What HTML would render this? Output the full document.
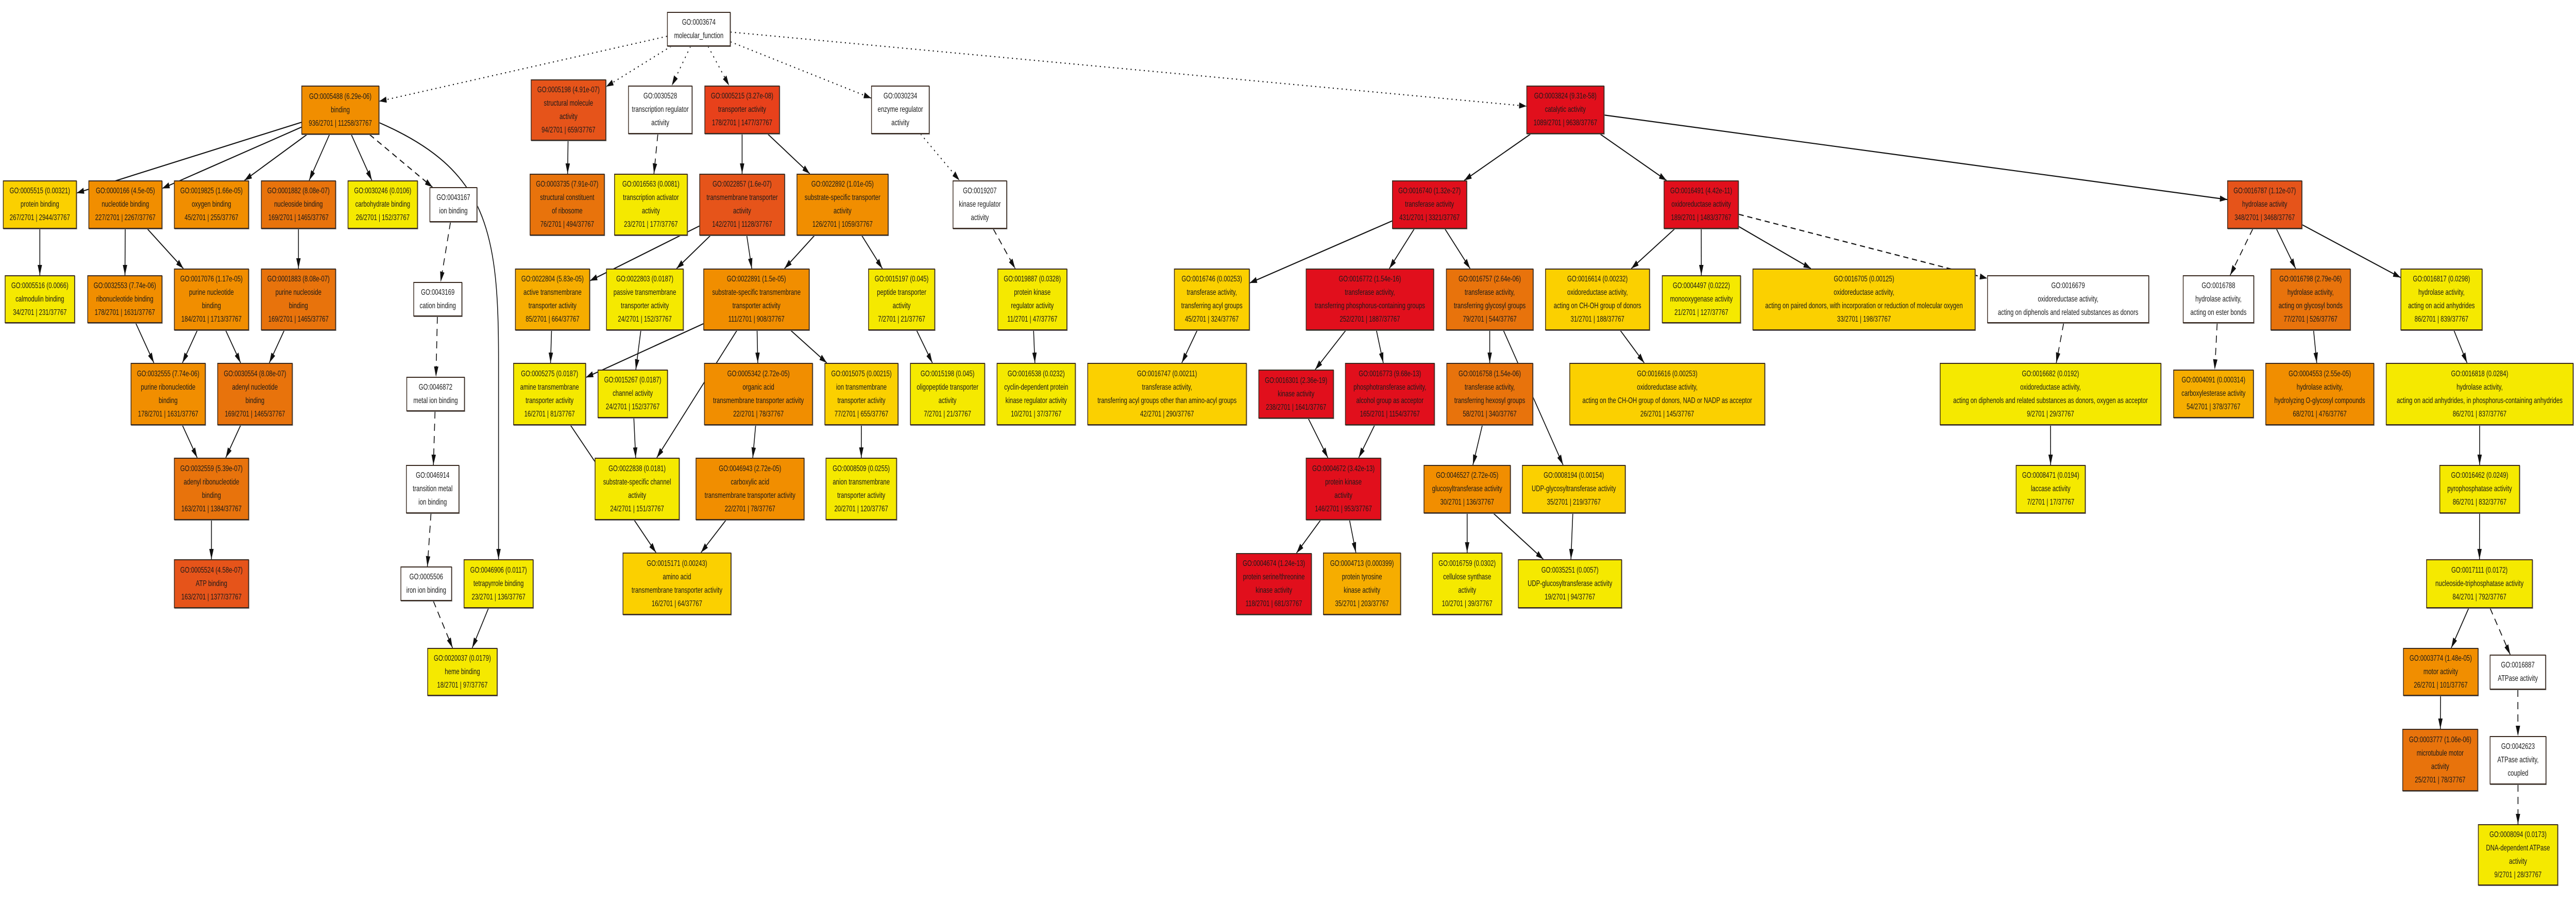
<!DOCTYPE html>
<html><head><meta charset="utf-8">
<style>
html,body{margin:0;padding:0;background:#fff;overflow:hidden}
#c{position:absolute;left:0;top:0;width:7017px;height:1750px;overflow:hidden;background:#fff;transform-origin:0 0}
svg{position:absolute;left:0;top:0}
.n{position:absolute;box-sizing:border-box;border:2px solid #3a2a20;display:flex;align-items:center;justify-content:center;font:16px/26px "Liberation Sans",sans-serif;color:#1a1a1a;white-space:nowrap;text-align:center;box-shadow:1px 1px 0 #777;overflow:hidden}
.n>div{max-width:100%}
.R{background:#e10f1c}.T{background:#e8411b}.S{background:#e6541a}.D{background:#e8730c}.O{background:#f18e00}.G{background:#f6ad00}.Y{background:#fbd000}.L{background:#f5e900}.W{background:#fff}
</style></head><body><div id="c">
<svg id="s" width="7017" height="1750" viewBox="0 0 7017 1750" xmlns="http://www.w3.org/2000/svg">
<defs><marker id="m" markerWidth="20" markerHeight="12" refX="20" refY="6" orient="auto" markerUnits="userSpaceOnUse"><path d="M0,0 L20,6 L0,12 z" fill="#111"/></marker></defs>
<g id="g" fill="none" stroke="#111" stroke-width="2.2"></g>
</svg>
<div class="n W" id="r" style="left:1817px;top:23px;width:173px;height:67px"><div>GO:0003674<br>molecular_function</div></div>
<div class="n O" id="n0005488" style="left:821px;top:166px;width:212px;height:95px"><div>GO:0005488 (6.29e-06)<br>binding<br>936/2701 | 11258/37767</div></div>
<div class="n S" id="n0005198" style="left:1446px;top:154px;width:205px;height:119px"><div>GO:0005198 (4.91e-07)<br>structural molecule<br>activity<br>94/2701 | 659/37767</div></div>
<div class="n W" id="n0030528" style="left:1711px;top:166px;width:175px;height:94px"><div>GO:0030528<br>transcription regulator<br>activity</div></div>
<div class="n T" id="n0005215" style="left:1919px;top:166px;width:205px;height:94px"><div>GO:0005215 (3.27e-08)<br>transporter activity<br>178/2701 | 1477/37767</div></div>
<div class="n W" id="n0030234" style="left:2373px;top:166px;width:159px;height:94px"><div>GO:0030234<br>enzyme regulator<br>activity</div></div>
<div class="n R" id="n0003824" style="left:4158px;top:166px;width:212px;height:94px"><div>GO:0003824 (9.31e-58)<br>catalytic activity<br>1089/2701 | 9638/37767</div></div>

<div class="n Y" id="n0005515" style="left:8px;top:350px;width:201px;height:94px"><div>GO:0005515 (0.00321)<br>protein binding<br>267/2701 | 2944/37767</div></div>
<div class="n O" id="n0000166" style="left:241px;top:350px;width:201px;height:94px"><div>GO:0000166 (4.5e-05)<br>nucleotide binding<br>227/2701 | 2267/37767</div></div>
<div class="n O" id="n0019825" style="left:474px;top:350px;width:204px;height:94px"><div>GO:0019825 (1.66e-05)<br>oxygen binding<br>45/2701 | 255/37767</div></div>
<div class="n D" id="n0001882" style="left:711px;top:350px;width:204px;height:94px"><div>GO:0001882 (8.08e-07)<br>nucleoside binding<br>169/2701 | 1465/37767</div></div>
<div class="n L" id="n0030246" style="left:947px;top:350px;width:191px;height:94px"><div>GO:0030246 (0.0106)<br>carbohydrate binding<br>26/2701 | 152/37767</div></div>
<div class="n W" id="n0043167" style="left:1170px;top:363px;width:130px;height:68px"><div>GO:0043167<br>ion binding</div></div>
<div class="n D" id="n0003735" style="left:1443px;top:337px;width:204px;height:120px"><div>GO:0003735 (7.91e-07)<br>structural constituent<br>of ribosome<br>76/2701 | 494/37767</div></div>
<div class="n L" id="n0016563" style="left:1673px;top:337px;width:200px;height:120px"><div>GO:0016563 (0.0081)<br>transcription activator<br>activity<br>23/2701 | 177/37767</div></div>
<div class="n S" id="n0022857" style="left:1905px;top:337px;width:233px;height:120px"><div>GO:0022857 (1.6e-07)<br>transmembrane transporter<br>activity<br>142/2701 | 1128/37767</div></div>
<div class="n O" id="n0022892" style="left:2170px;top:337px;width:250px;height:120px"><div>GO:0022892 (1.01e-05)<br>substrate-specific transporter<br>activity<br>126/2701 | 1059/37767</div></div>
<div class="n W" id="n0019207" style="left:2595px;top:350px;width:148px;height:94px"><div>GO:0019207<br>kinase regulator<br>activity</div></div>
<div class="n R" id="n0016740" style="left:3792px;top:350px;width:204px;height:94px"><div>GO:0016740 (1.32e-27)<br>transferase activity<br>431/2701 | 3321/37767</div></div>
<div class="n R" id="n0016491" style="left:4532px;top:350px;width:204px;height:94px"><div>GO:0016491 (4.42e-11)<br>oxidoreductase activity<br>189/2701 | 1483/37767</div></div>
<div class="n S" id="n0016787" style="left:6067px;top:350px;width:204px;height:94px"><div>GO:0016787 (1.12e-07)<br>hydrolase activity<br>348/2701 | 3468/37767</div></div>

<div class="n L" id="n0005516" style="left:13px;top:534px;width:191px;height:93px"><div>GO:0005516 (0.0066)<br>calmodulin binding<br>34/2701 | 231/37767</div></div>
<div class="n O" id="n0032553" style="left:238px;top:534px;width:204px;height:93px"><div>GO:0032553 (7.74e-06)<br>ribonucleotide binding<br>178/2701 | 1631/37767</div></div>
<div class="n O" id="n0017076" style="left:474px;top:521px;width:204px;height:120px"><div>GO:0017076 (1.17e-05)<br>purine nucleotide<br>binding<br>184/2701 | 1713/37767</div></div>
<div class="n D" id="n0001883" style="left:711px;top:521px;width:204px;height:120px"><div>GO:0001883 (8.08e-07)<br>purine nucleoside<br>binding<br>169/2701 | 1465/37767</div></div>
<div class="n W" id="n0043169" style="left:1126px;top:547px;width:133px;height:67px"><div>GO:0043169<br>cation binding</div></div>
<div class="n G" id="n0022804" style="left:1403px;top:521px;width:204px;height:120px"><div>GO:0022804 (5.83e-05)<br>active transmembrane<br>transporter activity<br>85/2701 | 664/37767</div></div>
<div class="n L" id="n0022803" style="left:1651px;top:521px;width:211px;height:120px"><div>GO:0022803 (0.0187)<br>passive transmembrane<br>transporter activity<br>24/2701 | 152/37767</div></div>
<div class="n O" id="n0022891" style="left:1916px;top:521px;width:289px;height:120px"><div>GO:0022891 (1.5e-05)<br>substrate-specific transmembrane<br>transporter activity<br>111/2701 | 908/37767</div></div>
<div class="n L" id="n0015197" style="left:2365px;top:521px;width:182px;height:120px"><div>GO:0015197 (0.045)<br>peptide transporter<br>activity<br>7/2701 | 21/37767</div></div>
<div class="n L" id="n0019887" style="left:2717px;top:521px;width:190px;height:120px"><div>GO:0019887 (0.0328)<br>protein kinase<br>regulator activity<br>11/2701 | 47/37767</div></div>
<div class="n Y" id="n0016746" style="left:3198px;top:521px;width:206px;height:120px"><div>GO:0016746 (0.00253)<br>transferase activity,<br>transferring acyl groups<br>45/2701 | 324/37767</div></div>
<div class="n R" id="n0016772" style="left:3557px;top:521px;width:349px;height:120px"><div>GO:0016772 (1.54e-16)<br>transferase activity,<br>transferring phosphorus-containing groups<br>252/2701 | 1887/37767</div></div>
<div class="n D" id="n0016757" style="left:3939px;top:521px;width:238px;height:120px"><div>GO:0016757 (2.64e-06)<br>transferase activity,<br>transferring glycosyl groups<br>79/2701 | 544/37767</div></div>
<div class="n Y" id="n0016614" style="left:4209px;top:521px;width:285px;height:120px"><div>GO:0016614 (0.00232)<br>oxidoreductase activity,<br>acting on CH-OH group of donors<br>31/2701 | 188/37767</div></div>
<div class="n L" id="n0004497" style="left:4527px;top:534px;width:215px;height:93px"><div>GO:0004497 (0.0222)<br>monooxygenase activity<br>21/2701 | 127/37767</div></div>
<div class="n Y" id="n0016705" style="left:4774px;top:521px;width:607px;height:120px"><div>GO:0016705 (0.00125)<br>oxidoreductase activity,<br>acting on paired donors, with incorporation or reduction of molecular oxygen<br>33/2701 | 198/37767</div></div>
<div class="n W" id="n0016679" style="left:5413px;top:534px;width:441px;height:93px"><div>GO:0016679<br>oxidoreductase activity,<br>acting on diphenols and related substances as donors</div></div>
<div class="n W" id="n0016788" style="left:5946px;top:534px;width:194px;height:93px"><div>GO:0016788<br>hydrolase activity,<br>acting on ester bonds</div></div>
<div class="n D" id="n0016798" style="left:6185px;top:521px;width:218px;height:120px"><div>GO:0016798 (2.79e-06)<br>hydrolase activity,<br>acting on glycosyl bonds<br>77/2701 | 526/37767</div></div>
<div class="n L" id="n0016817" style="left:6539px;top:521px;width:223px;height:120px"><div>GO:0016817 (0.0298)<br>hydrolase activity,<br>acting on acid anhydrides<br>86/2701 | 839/37767</div></div>

<div class="n O" id="n0032555" style="left:356px;top:704px;width:204px;height:121px"><div>GO:0032555 (7.74e-06)<br>purine ribonucleotide<br>binding<br>178/2701 | 1631/37767</div></div>
<div class="n D" id="n0030554" style="left:592px;top:704px;width:205px;height:121px"><div>GO:0030554 (8.08e-07)<br>adenyl nucleotide<br>binding<br>169/2701 | 1465/37767</div></div>
<div class="n W" id="n0046872" style="left:1107px;top:731px;width:159px;height:67px"><div>GO:0046872<br>metal ion binding</div></div>
<div class="n L" id="n0005275" style="left:1398px;top:704px;width:198px;height:121px"><div>GO:0005275 (0.0187)<br>amine transmembrane<br>transporter activity<br>16/2701 | 81/37767</div></div>
<div class="n L" id="n0015267" style="left:1628px;top:717px;width:191px;height:94px"><div>GO:0015267 (0.0187)<br>channel activity<br>24/2701 | 152/37767</div></div>
<div class="n O" id="n0005342" style="left:1918px;top:704px;width:296px;height:121px"><div>GO:0005342 (2.72e-05)<br>organic acid<br>transmembrane transporter activity<br>22/2701 | 78/37767</div></div>
<div class="n Y" id="n0015075" style="left:2246px;top:704px;width:201px;height:121px"><div>GO:0015075 (0.00215)<br>ion transmembrane<br>transporter activity<br>77/2701 | 655/37767</div></div>
<div class="n L" id="n0015198" style="left:2479px;top:704px;width:204px;height:121px"><div>GO:0015198 (0.045)<br>oligopeptide transporter<br>activity<br>7/2701 | 21/37767</div></div>
<div class="n L" id="n0016538" style="left:2715px;top:704px;width:215px;height:121px"><div>GO:0016538 (0.0232)<br>cyclin-dependent protein<br>kinase regulator activity<br>10/2701 | 37/37767</div></div>
<div class="n Y" id="n0016747" style="left:2962px;top:704px;width:434px;height:121px"><div>GO:0016747 (0.00211)<br>transferase activity,<br>transferring acyl groups other than amino-acyl groups<br>42/2701 | 290/37767</div></div>
<div class="n R" id="n0016301" style="left:3428px;top:717px;width:205px;height:95px"><div>GO:0016301 (2.36e-19)<br>kinase activity<br>238/2701 | 1641/37767</div></div>
<div class="n R" id="n0016773" style="left:3664px;top:704px;width:244px;height:121px"><div>GO:0016773 (9.68e-13)<br>phosphotransferase activity,<br>alcohol group as acceptor<br>165/2701 | 1154/37767</div></div>
<div class="n D" id="n0016758" style="left:3940px;top:704px;width:236px;height:121px"><div>GO:0016758 (1.54e-06)<br>transferase activity,<br>transferring hexosyl groups<br>58/2701 | 340/37767</div></div>
<div class="n Y" id="n0016616" style="left:4275px;top:704px;width:533px;height:121px"><div>GO:0016616 (0.00253)<br>oxidoreductase activity,<br>acting on the CH-OH group of donors, NAD or NADP as acceptor<br>26/2701 | 145/37767</div></div>
<div class="n L" id="n0016682" style="left:5284px;top:704px;width:603px;height:121px"><div>GO:0016682 (0.0192)<br>oxidoreductase activity,<br>acting on diphenols and related substances as donors, oxygen as acceptor<br>9/2701 | 29/37767</div></div>
<div class="n G" id="n0004091" style="left:5920px;top:717px;width:219px;height:94px"><div>GO:0004091 (0.000314)<br>carboxylesterase activity<br>54/2701 | 378/37767</div></div>
<div class="n O" id="n0004553" style="left:6171px;top:704px;width:296px;height:121px"><div>GO:0004553 (2.55e-05)<br>hydrolase activity,<br>hydrolyzing O-glycosyl compounds<br>68/2701 | 476/37767</div></div>
<div class="n L" id="n0016818" style="left:6499px;top:704px;width:511px;height:121px"><div>GO:0016818 (0.0284)<br>hydrolase activity,<br>acting on acid anhydrides, in phosphorus-containing anhydrides<br>86/2701 | 837/37767</div></div>

<div class="n D" id="n0032559" style="left:474px;top:888px;width:204px;height:121px"><div>GO:0032559 (5.39e-07)<br>adenyl ribonucleotide<br>binding<br>163/2701 | 1384/37767</div></div>
<div class="n W" id="n0046914" style="left:1106px;top:902px;width:145px;height:94px"><div>GO:0046914<br>transition metal<br>ion binding</div></div>
<div class="n L" id="n0022838" style="left:1620px;top:888px;width:231px;height:121px"><div>GO:0022838 (0.0181)<br>substrate-specific channel<br>activity<br>24/2701 | 151/37767</div></div>
<div class="n O" id="n0046943" style="left:1895px;top:888px;width:296px;height:121px"><div>GO:0046943 (2.72e-05)<br>carboxylic acid<br>transmembrane transporter activity<br>22/2701 | 78/37767</div></div>
<div class="n L" id="n0008509" style="left:2249px;top:888px;width:194px;height:121px"><div>GO:0008509 (0.0255)<br>anion transmembrane<br>transporter activity<br>20/2701 | 120/37767</div></div>
<div class="n R" id="n0004672" style="left:3557px;top:888px;width:205px;height:121px"><div>GO:0004672 (3.42e-13)<br>protein kinase<br>activity<br>146/2701 | 953/37767</div></div>
<div class="n O" id="n0046527" style="left:3878px;top:902px;width:237px;height:94px"><div>GO:0046527 (2.72e-05)<br>glucosyltransferase activity<br>30/2701 | 136/37767</div></div>
<div class="n Y" id="n0008194" style="left:4146px;top:902px;width:282px;height:94px"><div>GO:0008194 (0.00154)<br>UDP-glycosyltransferase activity<br>35/2701 | 219/37767</div></div>
<div class="n L" id="n0008471" style="left:5491px;top:902px;width:190px;height:94px"><div>GO:0008471 (0.0194)<br>laccase activity<br>7/2701 | 17/37767</div></div>
<div class="n L" id="n0016462" style="left:6645px;top:902px;width:219px;height:94px"><div>GO:0016462 (0.0249)<br>pyrophosphatase activity<br>86/2701 | 832/37767</div></div>

<div class="n S" id="n0005524" style="left:474px;top:1085px;width:204px;height:95px"><div>GO:0005524 (4.58e-07)<br>ATP binding<br>163/2701 | 1377/37767</div></div>
<div class="n W" id="n0005506" style="left:1091px;top:1099px;width:140px;height:67px"><div>GO:0005506<br>iron ion binding</div></div>
<div class="n L" id="n0046906" style="left:1263px;top:1085px;width:190px;height:95px"><div>GO:0046906 (0.0117)<br>tetrapyrrole binding<br>23/2701 | 136/37767</div></div>
<div class="n Y" id="n0015171" style="left:1696px;top:1072px;width:296px;height:121px"><div>GO:0015171 (0.00243)<br>amino acid<br>transmembrane transporter activity<br>16/2701 | 64/37767</div></div>
<div class="n R" id="n0004674" style="left:3367px;top:1073px;width:206px;height:120px"><div>GO:0004674 (1.24e-13)<br>protein serine/threonine<br>kinase activity<br>118/2701 | 681/37767</div></div>
<div class="n G" id="n0004713" style="left:3604px;top:1072px;width:212px;height:121px"><div>GO:0004713 (0.000399)<br>protein tyrosine<br>kinase activity<br>35/2701 | 203/37767</div></div>
<div class="n L" id="n0016759" style="left:3901px;top:1072px;width:191px;height:121px"><div>GO:0016759 (0.0302)<br>cellulose synthase<br>activity<br>10/2701 | 39/37767</div></div>
<div class="n L" id="n0035251" style="left:4135px;top:1085px;width:283px;height:95px"><div>GO:0035251 (0.0057)<br>UDP-glucosyltransferase activity<br>19/2701 | 94/37767</div></div>
<div class="n L" id="n0017111" style="left:6609px;top:1085px;width:290px;height:95px"><div>GO:0017111 (0.0172)<br>nucleoside-triphosphatase activity<br>84/2701 | 792/37767</div></div>

<div class="n L" id="n0020037" style="left:1164px;top:1257px;width:191px;height:93px"><div>GO:0020037 (0.0179)<br>heme binding<br>18/2701 | 97/37767</div></div>
<div class="n O" id="n0003774" style="left:6546px;top:1257px;width:205px;height:93px"><div>GO:0003774 (1.48e-05)<br>motor activity<br>26/2701 | 101/37767</div></div>
<div class="n W" id="n0016887" style="left:6782px;top:1270px;width:153px;height:68px"><div>GO:0016887<br>ATPase activity</div></div>
<div class="n D" id="n0003777" style="left:6544px;top:1414px;width:206px;height:121px"><div>GO:0003777 (1.06e-06)<br>microtubule motor<br>activity<br>25/2701 | 78/37767</div></div>
<div class="n W" id="n0042623" style="left:6782px;top:1428px;width:154px;height:94px"><div>GO:0042623<br>ATPase activity,<br>coupled</div></div>
<div class="n L" id="n0008094" style="left:6750px;top:1599px;width:218px;height:119px"><div>GO:0008094 (0.0173)<br>DNA-dependent ATPase<br>activity<br>9/2701 | 28/37767</div></div>
</div>
<script>
(function(){
var E="r>0005488:d r>0005198:d r>0030528:d r>0005215:d r>0030234:d r>0003824:d 0005488>0005515 0005488>0000166 0005488>0019825 0005488>0001882 0005488>0030246 0005488>0043167:a 0005515>0005516 0000166>0032553 0000166>0017076 0001882>0001883 0032553>0032555 0017076>0032555 0017076>0030554 0001883>0030554 0032555>0032559 0030554>0032559 0032559>0005524 0043167>0043169:a 0043169>0046872:a 0046872>0046914:a 0046914>0005506:a 0005506>0020037:a 0046906>0020037 0005198>0003735 0030528>0016563:a 0005215>0022857 0005215>0022892 0022857>0022804 0022857>0022803 0022857>0022891 0022892>0022891 0022892>0015197 0022804>0005275 0022803>0015267 0022891>0005275 0022891>0022838 0022891>0005342 0022891>0015075 0015267>0022838 0005275>0015171 0005342>0046943 0046943>0015171 0015075>0008509 0015197>0015198 0030234>0019207:d 0019207>0019887:a 0019887>0016538 0003824>0016740 0003824>0016491 0003824>0016787 0016740>0016746 0016740>0016772 0016740>0016757 0016746>0016747 0016772>0016301 0016772>0016773 0016301>0004672 0016773>0004672 0004672>0004674 0004672>0004713 0016757>0016758 0016757>0008194 0016758>0046527 0046527>0016759 0046527>0035251 0008194>0035251 0016491>0016614 0016491>0004497 0016491>0016705 0016491>0016679:a 0016614>0016616 0016679>0016682:a 0016682>0008471 0016787>0016788:a 0016787>0016798 0016787>0016817 0016788>0004091:a 0016798>0004553 0016817>0016818 0016818>0016462 0016462>0017111 0017111>0003774 0017111>0016887:a 0003774>0003777 0016887>0042623:a 0042623>0008094:a".split(" ");
var g=document.getElementById("g"),NS="http://www.w3.org/2000/svg";
function box(id){var e=document.getElementById(id==="r"?"r":"n"+id);var x=parseFloat(e.style.left),y=parseFloat(e.style.top),w=parseFloat(e.style.width),h=parseFloat(e.style.height);return {cx:x+w/2,cy:y+h/2,hw:w/2,hh:h/2};}
function clip(b,dx,dy){var t=Math.min(dx?b.hw/Math.abs(dx):1e9,dy?b.hh/Math.abs(dy):1e9);return [b.cx+dx*t,b.cy+dy*t];}
function add(d,st){var p=document.createElementNS(NS,"path");p.setAttribute("d",d);p.setAttribute("marker-end","url(#m)");if(st==="d"){p.setAttribute("stroke-dasharray","3,9");}else if(st==="a"){p.setAttribute("stroke-dasharray","14,10");}g.appendChild(p);}
E.forEach(function(s){var q=s.split(":"),st=q[1]||"s",ab=q[0].split(">");var a=box(ab[0]),b=box(ab[1]);var dx=b.cx-a.cx,dy=b.cy-a.cy;var p1=clip(a,dx,dy),p2=clip(b,-dx,-dy);add("M"+p1[0]+","+p1[1]+" L"+p2[0]+","+p2[1],st);});
add("M1033,238 C1330,330 1358,450 1358,700 L1358,1085","s");
function fit(){var w=window.innerWidth||7017,h=window.innerHeight||1750;var sx=w/7017,sy=h/1750;if(Math.abs(sx-1)<0.002)sx=1;if(Math.abs(sy-1)<0.002)sy=1;document.getElementById("c").style.transform="scale("+sx+","+sy+")";}
fit();window.addEventListener("resize",fit);
})();
</script>
</body></html>
